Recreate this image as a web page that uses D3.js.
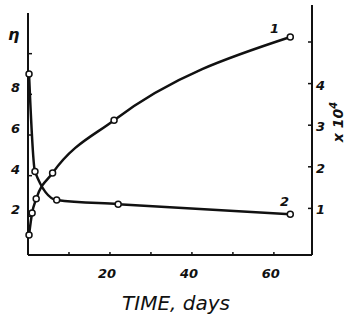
<!DOCTYPE html>
<html>
<head>
<script src="https://d3js.org/d3.v7.min.js"></script>
<style>
  body { margin: 0; background: white; }
  svg text { font-family: "DejaVu Sans", sans-serif; font-style: italic; fill: #111; }
  .tick { font-weight: bold; font-size: 13px; }
</style>
</head>
<body>
<svg id="chart" width="348" height="326"></svg>
<script>
// curve 1 : right axis (x 10^4)
const days1 = [0.25, 1, 2, 6, 21, 64];
const vals1 = [0.36, 0.89, 1.23, 1.85, 3.12, 5.12];
// curve 2 : left axis (eta)
const days2 = [0.25, 1.7, 7, 22, 64];
const vals2 = [9.0, 4.2, 2.8, 2.6, 2.1];

const xTickVals = [10, 20, 30, 40, 50, 60];
const xLabels = [20, 40, 60];
const leftTickVals = [2, 4, 6, 8, 10];
const leftLabels = [2, 4, 6, 8];
const rightTickVals = [1, 2, 3, 4, 5];
const rightLabels = [1, 2, 3, 4];

const svg = d3.select("#chart");
const x = d3.scaleLinear([0, 69.3], [28, 312]);
const yL = d3.scaleLinear([0, 12], [257, 13]);
const yR = d3.scaleLinear([0, 6], [250, 0.4]);
const base = 255;

const ink = "#111";

// axes lines
svg.append("line").attr("x1", 28).attr("x2", 28).attr("y1", 13).attr("y2", base)
  .attr("stroke", ink).attr("stroke-width", 2);
svg.append("line").attr("x1", 28).attr("x2", 312).attr("y1", base).attr("y2", base)
  .attr("stroke", ink).attr("stroke-width", 2);
svg.append("line").attr("x1", 312).attr("x2", 312).attr("y1", 5).attr("y2", base)
  .attr("stroke", ink).attr("stroke-width", 2);

// bottom ticks
svg.selectAll(".xt").data(xTickVals).join("line")
  .attr("x1", d => x(d)).attr("x2", d => x(d))
  .attr("y1", base).attr("y2", base - 3)
  .attr("stroke", ink).attr("stroke-width", 1.5);
svg.selectAll(".xl").data(xLabels).join("text")
  .attr("class", "tick")
  .attr("x", d => x(d) - 3).attr("y", 278)
  .attr("text-anchor", "middle")
  .text(d => d);

// left ticks
svg.selectAll(".lt").data(leftTickVals).join("line")
  .attr("x1", 28).attr("x2", 32)
  .attr("y1", d => yL(d)).attr("y2", d => yL(d))
  .attr("stroke", ink).attr("stroke-width", 1.5);
svg.selectAll(".ll").data(leftLabels).join("text")
  .attr("class", "tick")
  .attr("x", 20).attr("y", d => yL(d) - 2)
  .attr("text-anchor", "end")
  .text(d => d);
svg.append("text").attr("x", 8).attr("y", 40)
  .attr("font-size", 16).attr("font-weight", "bold").text("η");

// right ticks
svg.selectAll(".rt").data(rightTickVals).join("line")
  .attr("x1", 308).attr("x2", 312)
  .attr("y1", d => yR(d)).attr("y2", d => yR(d))
  .attr("stroke", ink).attr("stroke-width", 1.5);
svg.selectAll(".rl").data(rightLabels).join("text")
  .attr("class", "tick")
  .attr("x", 316).attr("y", d => yR(d) + 6)
  .text(d => d);
const rlab = svg.append("text")
  .attr("transform", "translate(343,122) rotate(-90)")
  .attr("text-anchor", "middle")
  .attr("font-size", 14).attr("font-weight", "bold");
rlab.append("tspan").text("x 10");
rlab.append("tspan").attr("dy", -6).attr("font-size", 10).text("4");

// curves
const pts1 = days1.map((d, i) => [x(d), yR(vals1[i])]);
const pts2 = days2.map((d, i) => [x(d), yL(vals2[i])]);
const line = d3.line().curve(d3.curveMonotoneX);

svg.append("path").attr("d", line(pts1))
  .attr("fill", "none").attr("stroke", ink).attr("stroke-width", 2.5);
svg.append("path").attr("d", line(pts2))
  .attr("fill", "none").attr("stroke", ink).attr("stroke-width", 2.5);

svg.selectAll(".p1").data(pts1.concat(pts2)).join("circle")
  .attr("cx", d => d[0]).attr("cy", d => d[1]).attr("r", 3)
  .attr("fill", "white").attr("stroke", ink).attr("stroke-width", 1.5);

// curve labels
svg.append("text").attr("class", "tick").attr("x", 270).attr("y", 33)
  .attr("font-size", 15).text("1");
svg.append("text").attr("class", "tick").attr("x", 280).attr("y", 206)
  .attr("font-size", 15).text("2");

// x title
svg.append("text").attr("x", 176).attr("y", 310)
  .attr("text-anchor", "middle")
  .attr("font-size", 20)
  .attr("font-family", "'DejaVu Sans'")
  .text("TIME, days");
</script>
</body>
</html>
